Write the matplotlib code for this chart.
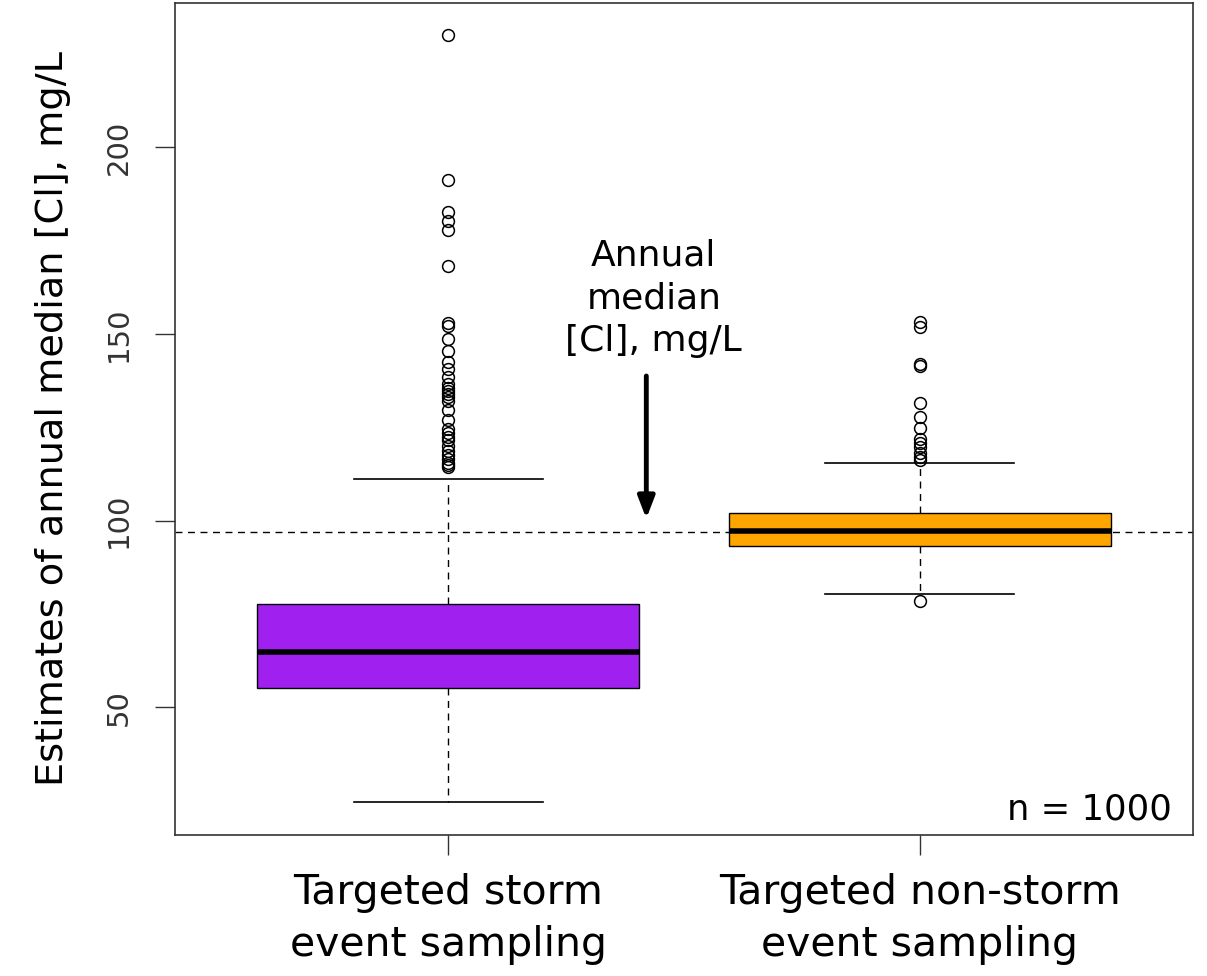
import matplotlib
matplotlib.use('Agg')
import matplotlib.pyplot as plt

plt.rcParams['font.family'] = ['DejaVu Sans']

# Box statistics (mg/L)
groups = ["Targeted storm\nevent sampling", "Targeted non-storm\nevent sampling"]
q1 = [55.2, 93.1]
med = [64.8, 97.3]
q3 = [77.6, 102.1]
whislo = [24.5, 80.3]
whishi = [111.2, 115.5]
storm_outliers = [229.9, 191.2, 182.7, 180.2, 177.8, 168.2, 152.8, 152.2,
                  148.5, 145.5, 142.5, 140.5, 138.5, 136.5, 135.5, 134.8,
                  134.0, 133.2, 132.0, 129.5, 127.0, 124.5, 123.5, 122.5,
                  121.5, 120.0, 118.5, 117.5, 116.5, 115.5, 115.0, 114.3]
nonstorm_outliers = [153.2, 151.8, 142.0, 141.5, 131.5, 127.8, 124.8, 121.8,
                     120.8, 119.8, 118.0, 117.0, 116.2, 78.4]
annual_median = 96.8
box_colors = ['#A020F0', '#FFA500']

stats = []
for i, fl in enumerate([storm_outliers, nonstorm_outliers]):
    stats.append({'q1': q1[i], 'med': med[i], 'q3': q3[i],
                  'whislo': whislo[i], 'whishi': whishi[i], 'fliers': fl})

fig = plt.figure(figsize=(12.07, 9.76), dpi=100)
ax = fig.add_axes([0.145, 0.1445, 0.8434, 0.8525])

bp = ax.bxp(stats, positions=[1, 2], widths=0.81, capwidths=0.4,
            patch_artist=True,
            boxprops=dict(edgecolor='black', linewidth=1),
            medianprops=dict(color='black', linewidth=4),
            whiskerprops=dict(color='black', linestyle=(0, (5, 4)), linewidth=1),
            capprops=dict(color='black', linewidth=1.2),
            flierprops=dict(marker='o', markerfacecolor='none',
                            markeredgecolor='black', markersize=8.5,
                            markeredgewidth=1.1))
for patch, c in zip(bp['boxes'], box_colors):
    patch.set_facecolor(c)

ax.axhline(annual_median, color='black', linestyle=(0, (5, 4)), linewidth=1, zorder=0.5)

ax.set_xlim(0.42, 2.58)
ax.set_ylim(15.8, 238.6)
ax.set_xticks([1, 2])
ax.set_xticklabels(groups, fontsize=29.5, linespacing=1.38)
ax.set_yticks([50, 100, 150, 200])
ax.set_yticklabels(['50', '100', '150', '200'], rotation=90, va='center',
                   fontsize=21, color='#333333')
ax.tick_params(axis='both', length=14.5, width=1, color='#333333')
ax.tick_params(axis='x', pad=13)
ax.tick_params(axis='y', pad=16)
for s in ax.spines.values():
    s.set_color('#333333')
    s.set_linewidth(1.2)

ax.set_ylabel('Estimates of annual median [Cl], mg/L', fontsize=27.5, labelpad=24)

ax.annotate('', xy=(1.42, 100.5), xytext=(1.42, 138.7),
            arrowprops=dict(arrowstyle='-|>,head_length=1.3,head_width=0.5',
                            color='black', lw=3.5, shrinkA=0, shrinkB=0))
ax.text(1.436, 159.5, 'Annual\nmedian\n[Cl], mg/L', ha='center', va='center',
        fontsize=26, linespacing=1.32)
ax.text(2.536, 20, 'n = 1000', ha='right', va='baseline', fontsize=25.5)

fig.savefig('out.png', dpi=100)
